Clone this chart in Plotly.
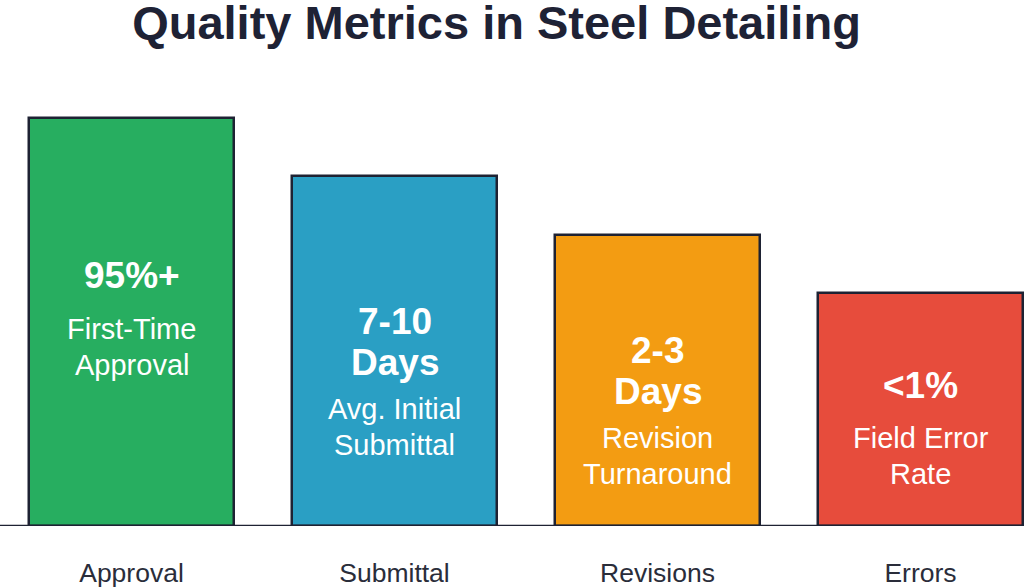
import plotly.graph_objects as go

categories = ["Approval", "Submittal", "Revisions", "Errors"]
bar_values = [350, 300, 250, 200]
headline_lines = [["95%+"], ["7-10", "Days"], ["2-3", "Days"], ["<1%"]]
description_lines = [["First-Time", "Approval"], ["Avg. Initial", "Submittal"],
                     ["Revision", "Turnaround"], ["Field Error", "Rate"]]
colors = ["#27ae60", "#2a9fc4", "#f39c12", "#e74c3c"]

W, H = 1024, 588
BASE = 526
SCALE = 408 / 350.0  # px per unit
YMAX = BASE / SCALE
FONT = "Liberation Sans, Arial, sans-serif"

x = list(range(len(categories)))

fig = go.Figure()
fig.add_trace(go.Bar(
    x=x, y=bar_values, width=0.78,
    marker=dict(color=colors, line=dict(color="#1e2233", width=2.5)),
    hoverinfo="skip", showlegend=False,
))

def py(px):
    return (BASE - px) / SCALE

# pixel centres of first headline line and first description line per bar
head_px = [275, 321, 350, 385]
desc_px = [329, 409, 438, 438]
HEAD_STEP = 41
DESC_STEP = 36
for i in range(len(categories)):
    for j, t in enumerate(headline_lines[i]):
        fig.add_annotation(x=i, y=py(head_px[i] + j * HEAD_STEP), text="<b>" + t + "</b>",
                           xref="x", yref="y", showarrow=False, yanchor="middle",
                           font=dict(size=37, color="white", family=FONT))
    for j, t in enumerate(description_lines[i]):
        fig.add_annotation(x=i, y=py(desc_px[i] + j * DESC_STEP), text=t,
                           xref="x", yref="y", showarrow=False, yanchor="middle",
                           font=dict(size=29, color="white", family=FONT))

fig.add_shape(type="line", xref="paper", yref="y", x0=0, x1=1, y0=0, y1=0,
              line=dict(color="#1e2233", width=2.5))

fig.update_layout(
    width=W, height=H,
    margin=dict(l=0, r=0, t=0, b=H - BASE),
    paper_bgcolor="white", plot_bgcolor="white",
    title=dict(text="<b>Quality Metrics in Steel Detailing</b>", x=496.5 / W, xanchor="center",
               y=1 - 23 / H, yanchor="middle",
               font=dict(size=47, color="#1e2235", family=FONT)),
    xaxis=dict(range=[-131.5 / 263, (W - 131.5) / 263], tickvals=x, ticktext=categories,
               showgrid=False, zeroline=False, showline=False, ticks="",
               tickfont=dict(size=26.5, color="#2a2d3a", family=FONT),
               ticklabelstandoff=28),
    yaxis=dict(range=[0, YMAX], visible=False, showgrid=False),
    bargap=0,
)

fig.write_html("out.html")
